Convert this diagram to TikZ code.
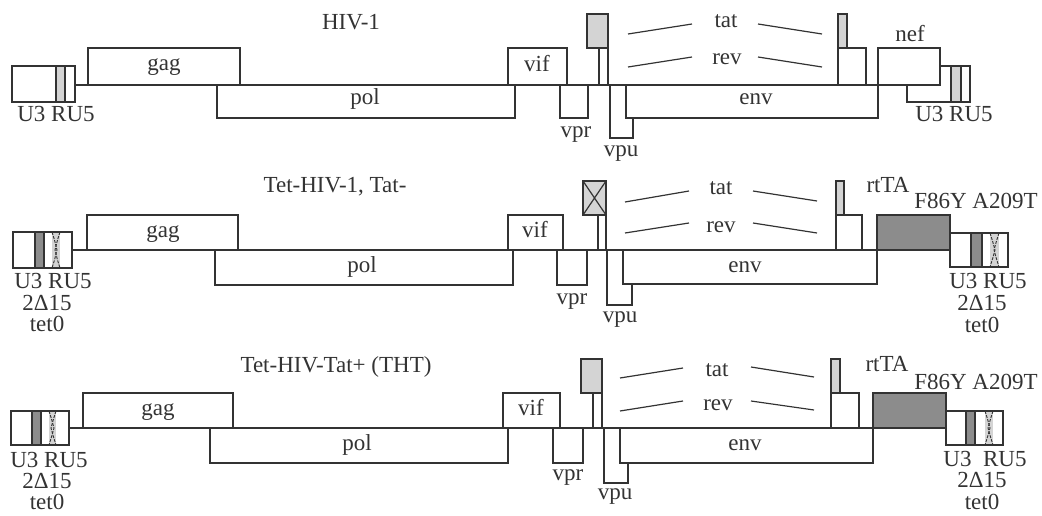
\documentclass[tikz,border=0pt]{standalone}
\usepackage{fontspec}
\setmainfont{Liberation Serif}
\definecolor{lg}{HTML}{D4D4D4}
\definecolor{dg}{HTML}{8C8C8C}
\definecolor{ink}{HTML}{333333}
\newcommand\ltrzig[4]{%
  \fill[lg] (#1,#3) rectangle (#2,#4);
  \draw[ink,line width=0.9pt,dash pattern=on 3pt off 1.2pt] (#1,#3) -- ({#1+2.5},{#3+8}) -- ({#1+5},{(#3+#4)/2}) -- ({#1+2.5},{#4-8}) -- (#1,#4);
  \draw[ink,line width=0.9pt,dash pattern=on 3pt off 1.2pt] (#2,#3) -- ({#2-2.5},{#3+8}) -- ({#2-5},{(#3+#4)/2}) -- ({#2-2.5},{#4-8}) -- (#2,#4);
}
\newcommand\ltrtet[8]{% x0 y0 x1 y1 g0 g1 z0 z1
  \draw[ln,fill=white] (#1,#2) rectangle (#3,#4);
  \fill[dg] (#5,#2) rectangle (#6,#4);
  \ltrzig{#7}{#8}{#2}{#4}
  \draw[ln] (#1,#2) rectangle (#3,#4);
  \draw[ln] (#5,#2) -- (#5,#4);
  \draw[ink,line width=2pt] (#6,#2) -- (#6,#4);
}
\begin{document}
\begin{tikzpicture}[x=1pt,y=-1pt,
  ln/.style={draw=ink,line width=1.2pt},
  lbl/.style={inner sep=0pt,text height=14pt,text depth=4pt,font=\fontsize{23}{25}\selectfont,text=ink}]
\useasboundingbox (0,0) rectangle (1042,516);

% ================= Row 1: HIV-1 =================
\draw[ln] (75,85) -- (940,85);
\draw[ln,fill=white] (88,48) rectangle (240,85);
\draw[ln,fill=white] (217,85) rectangle (515,118);
\draw[ln,fill=white] (508,48) rectangle (567,85);
\draw[ln,fill=white] (560,85) rectangle (588,118);
\draw[ln,fill=lg] (587,14) rectangle (608,48);
\draw[ln,fill=white] (599,48) rectangle (608,85);
\draw[ln,fill=white] (610,85) rectangle (633,138);
\draw[ln,fill=white] (626,85) rectangle (878,118);
\draw[ln,fill=lg] (838,14) rectangle (847,48);
\draw[ln,fill=white] (838,48) rectangle (866,85);
% left LTR
\draw[ln,fill=white] (12,66) rectangle (75,102);
\draw[ln,fill=lg] (56,66) rectangle (65,102);
% right LTR + nef
\draw[ln,fill=white] (907,66) rectangle (970,102);
\draw[ln,fill=lg] (951,66) rectangle (961,102);
\draw[ln,fill=white] (878,48) rectangle (940,85);
% tat / rev lines
\draw[ln] (628,34) -- (692,24);
\draw[ln] (758,24) -- (822,34);
\draw[ln] (628,67) -- (692,57);
\draw[ln] (758,57) -- (822,67);
\node[lbl] (t1) at (351,25) {HIV-1};
\node[lbl] (gag1) at (164,66) {gag};
\node[lbl] (pol1) at (365,100) {pol};
\node[lbl] (vif1) at (537,67) {vif};
\node[lbl] (vpr1) at (576,133) {vpr};
\node[lbl] (vpu1) at (621,152) {vpu};
\node[lbl] (env1) at (756,100) {env};
\node[lbl] (tat1) at (726,23) {tat};
\node[lbl] (rev1) at (727,60) {rev};
\node[lbl] (nef1) at (910,37) {nef};
\node[lbl] (l1a) at (56,117) {U3 RU5};
\node[lbl] (l1b) at (954,117) {U3 RU5};

% ================= Row 2: Tet-HIV-1, Tat- =================
\draw[ink,line width=2.4pt] (72,250) -- (903,250);
\draw[ln] (72,250) -- (950,250);
\draw[ln] (87,215) rectangle (238,250);
\draw[ln] (215,250) rectangle (513,285);
\draw[ln,fill=white] (508,215) rectangle (563,250);
\draw[ln,fill=white] (557,250) rectangle (587,285);
\draw[ln,fill=lg] (583,181) rectangle (606,215);
\draw[ln] (583,181) -- (606,215) (606,181) -- (583,215);
\draw[ln,fill=white] (598,215) rectangle (606,250);
\draw[ln,fill=white] (607,250) rectangle (632,305);
\draw[ln,fill=white] (623,250) rectangle (877,284);
\draw[ink,line width=2.4pt] (623,250) -- (903,250);
\draw[ln,fill=lg] (836,181) rectangle (844,215);
\draw[ln,fill=white] (836,215) rectangle (862,250);
\draw[ln,fill=dg] (877,215) rectangle (950,250);
\ltrtet{13}{232}{72}{268}{35}{44}{52}{60}
\ltrtet{950}{233}{1008}{267}{971}{982}{990}{999}
\draw[ln] (625,202) -- (689,191);
\draw[ln] (753,191) -- (817,201);
\draw[ln] (625,233) -- (689,223);
\draw[ln] (753,223) -- (817,233);
\node[lbl] (t2) at (335,188) {Tet-HIV-1, Tat-};
\node[lbl] (gag2) at (163,232) {gag};
\node[lbl] (pol2) at (362,267) {pol};
\node[lbl] (vif2) at (535,232) {vif};
\node[lbl] (vpr2) at (572,299) {vpr};
\node[lbl] (vpu2) at (620,317) {vpu};
\node[lbl] (env2) at (745,267) {env};
\node[lbl] (tat2) at (721,189) {tat};
\node[lbl] (rev2) at (721,227) {rev};
\node[lbl] (rt2) at (888,188) {rtTA};
\node[lbl] (mu2) at (976,203) {F86Y A209T};
\node[lbl] (l2a) at (53,283) {U3 RU5};
\node[lbl] (l2b) at (47,305) {2Δ15};
\node[lbl] (l2c) at (47,326) {tet0};
\node[lbl] (l2d) at (988,283) {U3 RU5};
\node[lbl] (l2e) at (982,305) {2Δ15};
\node[lbl] (l2f) at (982,327) {tet0};

% ================= Row 3: Tet-HIV-Tat+ (THT) =================
\draw[ln] (69,428) -- (946,428);
\draw[ln,fill=white] (83,393) rectangle (233,428);
\draw[ln,fill=white] (210,428) rectangle (508,463);
\draw[ln,fill=white] (503,393) rectangle (560,428);
\draw[ln,fill=white] (553,428) rectangle (583,463);
\draw[ln,fill=lg] (581,359) rectangle (602,393);
\draw[ln,fill=white] (593,393) rectangle (602,428);
\draw[ln,fill=white] (604,428) rectangle (628,483);
\draw[ln,fill=white] (620,428) rectangle (873,463);
\draw[ln,fill=lg] (831,359) rectangle (840,393);
\draw[ln,fill=white] (831,393) rectangle (859,428);
\draw[ln,fill=dg] (873,393) rectangle (946,428);
\ltrtet{11}{411}{69}{445}{32}{41}{49}{56}
\ltrtet{946}{411}{1003}{445}{966}{975}{985}{993}
\draw[ln] (620,378) -- (683,368);
\draw[ln] (751,367) -- (814,377);
\draw[ln] (620,411) -- (683,401);
\draw[ln] (751,401) -- (814,410);
\node[lbl] (t3) at (336,367) {Tet-HIV-Tat+ (THT)};
\node[lbl] (gag3) at (158,410) {gag};
\node[lbl] (pol3) at (357,445) {pol};
\node[lbl] (vif3) at (531,410) {vif};
\node[lbl] (vpr3) at (568,475) {vpr};
\node[lbl] (vpu3) at (615,494) {vpu};
\node[lbl] (env3) at (745,445) {env};
\node[lbl] (tat3) at (717,371) {tat};
\node[lbl] (rev3) at (718,405) {rev};
\node[lbl] (rt3) at (887,366) {rtTA};
\node[lbl] (mu3) at (976,384) {F86Y A209T};
\node[lbl] (l3a) at (49,462) {U3 RU5};
\node[lbl] (l3b) at (47,483) {2Δ15};
\node[lbl] (l3c) at (47,504) {tet0};
\node[lbl] (l3d) at (985,461) {U3\ \ RU5};
\node[lbl] (l3e) at (982,482) {2Δ15};
\node[lbl] (l3f) at (982,504) {tet0};
\end{tikzpicture}
\end{document}
